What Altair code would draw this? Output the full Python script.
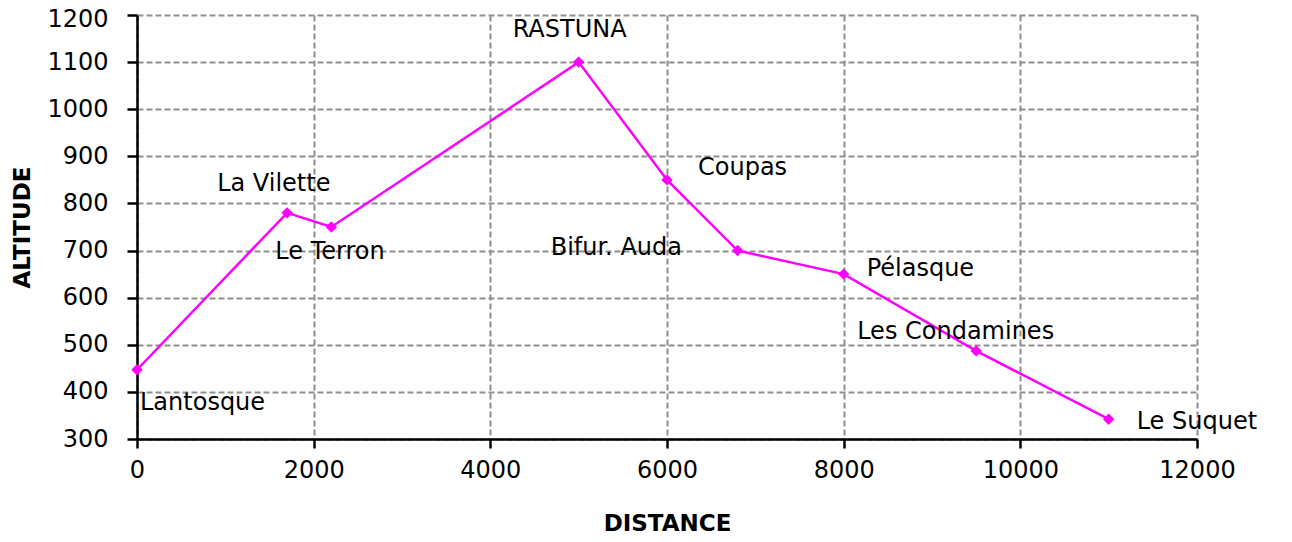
import altair as alt
import pandas as pd

places = ["Lantosque", "La Vilette", "Le Terron", "RASTUNA", "Coupas",
          "Bifur. Auda", "Pélasque", "Les Condamines", "Le Suquet"]
distance = [0, 1700, 2200, 5000, 6000, 6800, 8000, 9500, 11000]
altitude = [447, 780, 750, 1100, 850, 700, 650, 487, 342]

df = pd.DataFrame({"place": places, "distance": distance, "altitude": altitude})

# label offsets (style, in pixels) relative to each point
offsets = {
    "Lantosque": (3, 33),
    "La Vilette": (-70, -29),
    "Le Terron": (-56, 25),
    "RASTUNA": (-66, -32),
    "Coupas": (31, -12),
    "Bifur. Auda": (-187, -3),
    "Pélasque": (23, -5),
    "Les Condamines": (-119, -19),
    "Le Suquet": (28, 3),
}

FONT = "DejaVu Sans"

x = alt.X("distance:Q", title="DISTANCE",
          scale=alt.Scale(domain=[0, 12000], nice=False),
          axis=alt.Axis(values=[0, 2000, 4000, 6000, 8000, 10000, 12000],
                        format="d", tickSize=9, labelPadding=10,
                        labelFlush=False, titlePadding=30))
y = alt.Y("altitude:Q", title="ALTITUDE",
          scale=alt.Scale(domain=[300, 1200], nice=False, zero=False),
          axis=alt.Axis(values=list(range(300, 1201, 100)), format="d",
                        tickSize=10, labelPadding=19, titlePadding=12,
                        labelFlush=False,
                        labelOffset={"condition": {"test": "datum.value == 1200", "value": 4},
                                     "value": 0}))

base = alt.Chart(df)
line = base.mark_line(color="#FF00FF", strokeWidth=2.5).encode(x=x, y=y)
pts = base.mark_point(shape="diamond", filled=True, color="#FF00FF",
                      size=130, opacity=1).encode(x="distance:Q", y="altitude:Q")

layers = [line, pts]
for p in places:
    dx, dy = offsets[p]
    layers.append(
        alt.Chart(df).transform_filter(alt.datum.place == p)
        .mark_text(align="left", baseline="middle", dx=dx, dy=dy,
                   font=FONT, fontSize=24, color="black")
        .encode(x="distance:Q", y="altitude:Q", text="place:N")
    )

chart = alt.layer(*layers).properties(
    width=1060, height=424,
    autosize=alt.AutoSizeParams(type="none"),
    padding={"left": 129, "top": 7, "right": 80, "bottom": 95},
).configure_view(stroke=None).configure_axis(
    grid=True, gridColor="#8f8f8f", gridDash=[6, 3], gridWidth=2,
    domainColor="black", domainWidth=2.5, tickColor="black", tickWidth=2.5,
    labelFont=FONT, labelFontSize=24, labelColor="black",
    titleFont=FONT, titleFontSize=23, titleFontWeight="bold", titleColor="black",
)

chart.save("out.html", embed_options={"renderer": "svg", "actions": False})
